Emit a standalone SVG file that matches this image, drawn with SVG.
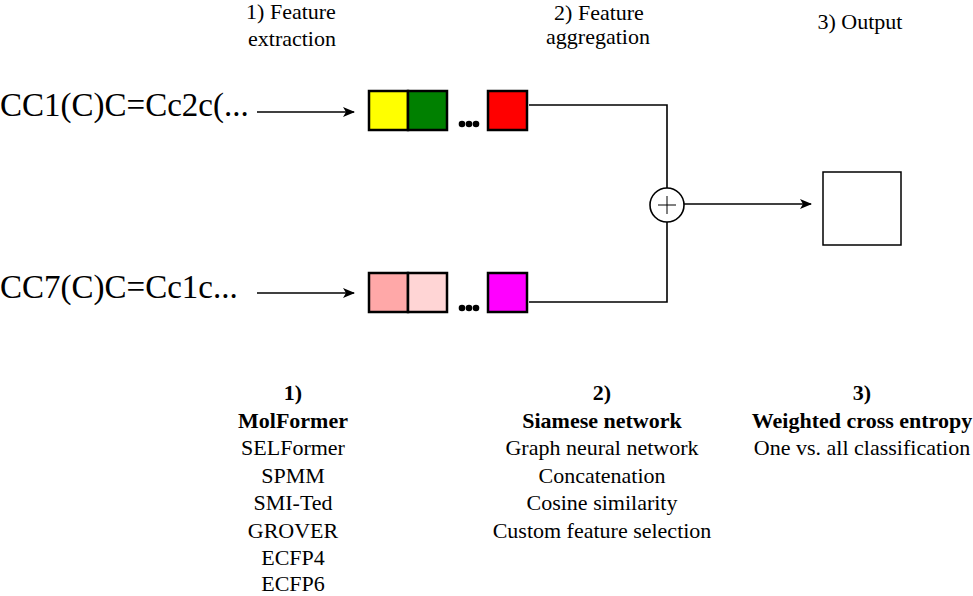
<svg xmlns="http://www.w3.org/2000/svg" width="973" height="596" viewBox="0 0 973 596">
<defs>
<style>
text{font-family:"Liberation Serif","Times New Roman",serif;fill:#000}
.smi{font-size:33px}
.lbl{font-size:22px;text-anchor:middle}
.b{font-weight:bold}
.cell{stroke:#000;stroke-width:2.5}
.wire{fill:none;stroke:#000;stroke-width:1.6}
.dot{fill:#000}
</style>
<marker id="ah" viewBox="0 0 12 10" markerWidth="12" markerHeight="10" refX="11" refY="5" orient="auto" markerUnits="userSpaceOnUse">
<path d="M0,0 L12,5 L0,10 L3,5 z" fill="#000"/>
</marker>
</defs>
<rect width="973" height="596" fill="#fff"/>

<g id="headers">
<text class="lbl" x="291" y="19">1) Feature</text>
<text class="lbl" x="292" y="46">extraction</text>
<text class="lbl" x="599" y="20">2) Feature</text>
<text class="lbl" x="598" y="44">aggregation</text>
<text class="lbl" x="860" y="29">3) Output</text>
</g>

<g id="smiles1"><text class="smi" x="0" y="116">CC1(C)C=Cc2c(...</text></g>
<g id="smiles2"><text class="smi" x="0" y="298">CC7(C)C=Cc1c...</text></g>

<g id="vector1">
<rect class="cell" x="369" y="91" width="39" height="39" fill="#ffff00"/>
<rect class="cell" x="408" y="91" width="39" height="39" fill="#008000"/>
<circle class="dot" cx="462" cy="124" r="3.3"/>
<circle class="dot" cx="469" cy="124" r="3.3"/>
<circle class="dot" cx="476" cy="124" r="3.3"/>
<rect class="cell" x="488" y="91" width="39" height="39" fill="#ff0000"/>
</g>

<g id="vector2">
<rect class="cell" x="369" y="273" width="39" height="39" fill="#ffa8a8"/>
<rect class="cell" x="408" y="273" width="39" height="39" fill="#ffd5d5"/>
<circle class="dot" cx="462" cy="308" r="3.3"/>
<circle class="dot" cx="469" cy="308" r="3.3"/>
<circle class="dot" cx="476" cy="308" r="3.3"/>
<rect class="cell" x="488" y="273" width="39" height="39" fill="#ff00ff"/>
</g>

<g id="sum">
<circle cx="667" cy="205" r="17" fill="#fff" stroke="#000" stroke-width="1.6"/>
<path d="M658,205 H676 M667,196 V214" stroke="#000" stroke-width="1"/>
</g>

<g id="output">
<rect x="823" y="172" width="78" height="73" fill="#fff" stroke="#000" stroke-width="1.5"/>
</g>

<g id="connectors">
<path class="wire" d="M257,112 H354" marker-end="url(#ah)"/>
<path class="wire" d="M257,293 H354" marker-end="url(#ah)"/>
<path class="wire" d="M529,105 H667 V188"/>
<path class="wire" d="M529,302 H667 V222"/>
<path class="wire" d="M684,204 H811" marker-end="url(#ah)"/>
</g>

<g id="col1">
<text class="lbl b" x="293" y="400">1)</text>
<text class="lbl b" x="293" y="428">MolFormer</text>
<text class="lbl" x="293" y="455">SELFormer</text>
<text class="lbl" x="293" y="483">SPMM</text>
<text class="lbl" x="293" y="510">SMI-Ted</text>
<text class="lbl" x="293" y="538">GROVER</text>
<text class="lbl" x="293" y="565">ECFP4</text>
<text class="lbl" x="293" y="591">ECFP6</text>
</g>

<g id="col2">
<text class="lbl b" x="602" y="400">2)</text>
<text class="lbl b" x="602" y="428">Siamese network</text>
<text class="lbl" x="602" y="455">Graph neural network</text>
<text class="lbl" x="602" y="483">Concatenation</text>
<text class="lbl" x="602" y="510">Cosine similarity</text>
<text class="lbl" x="602" y="538">Custom feature selection</text>
</g>

<g id="col3">
<text class="lbl b" x="862" y="400">3)</text>
<text class="lbl b" x="862" y="428">Weighted cross entropy</text>
<text class="lbl" x="862" y="455">One vs. all classification</text>
</g>
</svg>
